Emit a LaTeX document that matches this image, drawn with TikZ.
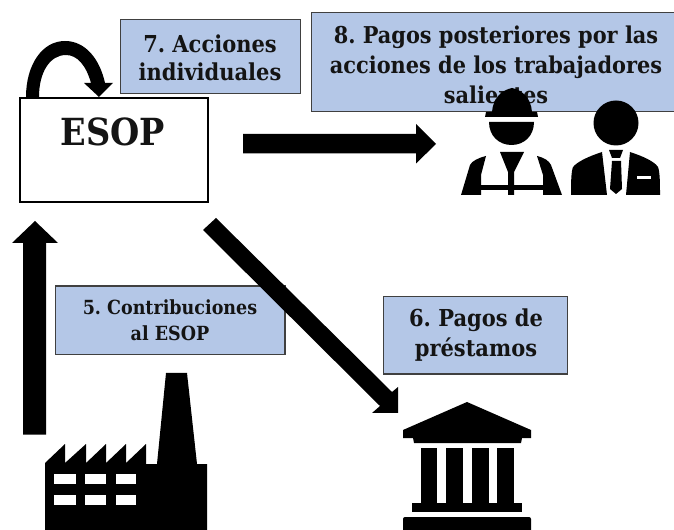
\documentclass[tikz,border=0pt]{standalone}
\usepackage{fontspec}
\setmainfont{DejaVu Serif Condensed}
\definecolor{blue1}{HTML}{B4C7E7}
\tikzset{
  x=0.75pt,y=-0.75pt,
  lbl/.style={draw=black!75!white,line width=0.9pt,fill=blue1,inner sep=0pt,anchor=north west},
  txt/.style={align=center,inner sep=0pt,text=black!92!white},
  ink/.style={fill=black,draw=none},
  hole/.style={fill=white,draw=none}
}
\begin{document}
\frenchspacing
\begin{tikzpicture}
\useasboundingbox (0,0) rectangle (674,530);
% boxes
\node[draw=black,line width=1.6pt,minimum width=141pt,minimum height=78pt,inner sep=0pt,anchor=north west] (esop) at (18.5,97) {};
\node[txt,font=\fontsize{28pt}{32pt}\bfseries] (esoplabel) at (113,132) {ESOP};
\node[lbl,minimum width=135pt,minimum height=55.5pt] (b7) at (120,19) {};
\node[txt,font=\fontsize{17.5pt}{21pt}\bfseries] (t7) at (210,58) {7. Acciones\\individuales};
\node[lbl,minimum width=274pt,minimum height=74pt] (b8) at (310.5,12) {};
\node[txt,font=\fontsize{17.4pt}{22.5pt}\bfseries] (t8) at (496,65) {8. Pagos posteriores por las\\acciones de los trabajadores\\salientes};
\node[lbl,minimum width=172pt,minimum height=51.5pt] (b5) at (55,285.5) {};
\node[txt,font=\fontsize{14.6pt}{19.5pt}\bfseries] (t5) at (170,320) {5. Contribuciones\\al ESOP};
\node[lbl,minimum width=138pt,minimum height=58pt] (b6) at (383,296) {};
\node[txt,font=\fontsize{17.5pt}{22.5pt}\bfseries] (t6) at (476,335) {6. Pagos de\\préstamos};
% arrows
\fill[ink] (243,134)--(416,134)--(416,124)--(436,144)--(416,163.5)--(416,153.5)--(243,153.5)--cycle;
\fill[ink] (23,434.5)--(23,243)--(12,243)--(35,221)--(58,243)--(46,243)--(46,434.5)--cycle;
\fill[ink] (203,230)--(216,218)--(392,392)--(398,387)--(398,413)--(372,413)--(380,406)--cycle;
\fill[ink] (26,97) .. controls (26,65) and (42,41) .. (65,41) .. controls (86,41) and (100,60) .. (105,83) -- (113,83) -- (99,97) -- (84,83) -- (91,83) .. controls (86,65) and (77,55) .. (66,55) .. controls (50,55) and (39,72) .. (39,97) -- cycle;
% factory
\fill[ink] (45,530)--(45,463)--(65,444)--(65,463)--(86,444)--(86,463)--(106,444)--(106,463)--(126,444)--(126,463)--(146,444)--(146,464)--(157,464)--(166,373)--(187,373)--(197,464)--(207,464)--(207,530)--cycle;
\foreach \xx/\xe in {54/76,85/106,116/136} \foreach \yy/\ye in {474/484,495/505} {\fill[hole] (\xx,\yy) rectangle (\xe,\ye);}
% bank
\fill[ink] (467,402)--(531,430)--(531,438)--(522,438)--(521,443)--(414,443)--(413,438)--(403,438)--(403,430)--cycle;
\foreach \xx/\xe in {421/437,446/463,472/489,497/514} {\fill[ink] (\xx,448) rectangle (\xe,503);}
\fill[ink] (412,503) rectangle (522,512);
\fill[ink,rounded corners=1.5pt] (403,517) rectangle (531,535);
% worker
\fill[ink] (492,112) .. controls (493,98) and (502,90) .. (512,88) .. controls (522,90) and (531,98) .. (532,112) -- (537,112) -- (538,117) -- (485,117) -- (486,112) -- cycle;
\fill[ink] (489,122) -- (534,122) .. controls (534,136) and (524,145) .. (511.5,145) .. controls (499,145) and (489,136) .. (489,122) -- cycle;
\fill[ink] (500,152)--(524,152)--(514,172)--(514,195)--(508,195)--(508,172)--cycle;
\fill[ink] (481,185) rectangle (543,190);
\fill[ink] (486,156) .. controls (478,158) and (472,161) .. (470,165) -- (461,195) -- (481,195) -- (481,175) -- cycle;
\fill[ink] (537,156) .. controls (545,158) and (549,161) .. (551,165) -- (562,195) -- (543,195) -- (543,175) -- cycle;
% manager
\fill[ink] (616,123) circle (22.5);
\fill[ink] (602,152) .. controls (590,156) and (578,161) .. (573,167) .. controls (571,172) and (571,185) .. (571,195) -- (607,195) -- cycle;
\fill[ink] (630,152) .. controls (642,156) and (654,161) .. (658,167) .. controls (660,172) and (660,185) .. (660,195) -- (626,195) -- cycle;
\fill[ink] (609,150)--(623,150)--(620,158)--(612,158)--cycle;
\fill[ink] (612,161)--(621,161)--(622,189)--(616,194)--(610,189)--cycle;
\fill[hole] (637,176) rectangle (651,179);
\end{tikzpicture}
\end{document}
